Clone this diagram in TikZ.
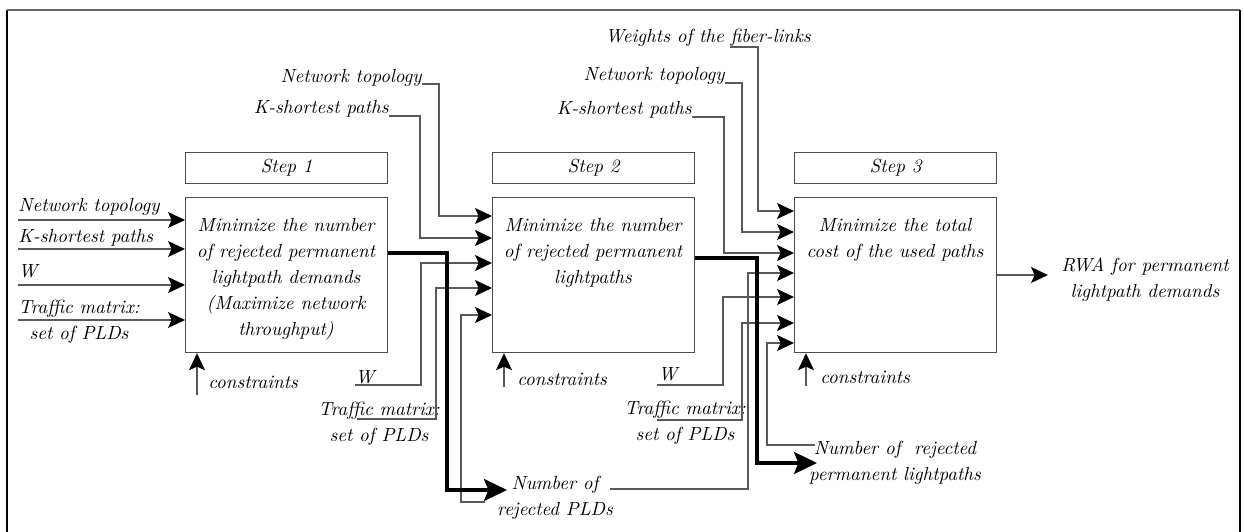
\documentclass[tikz,border=0pt]{standalone}
\usetikzlibrary{arrows.meta}
\begin{document}
\begin{tikzpicture}[x=0.5pt,y=-0.5pt,
  every node/.style={font=\itshape\fontsize{9.5}{13}\selectfont, inner sep=0pt},
  box/.style={draw=black!70, line width=0.6pt, minimum width=101pt, minimum height=77.5pt, anchor=north west},
  stepbox/.style={draw=black!70, line width=0.6pt, minimum width=101pt, minimum height=15.5pt, anchor=north west},
  inarrow/.style={draw=black!65, line width=0.6pt, -{Stealth[length=8.5pt,width=8pt,inset=1.8pt,color=black]}},
  mainflow/.style={draw=black, line width=1.6pt, -{Stealth[length=11.5pt,width=11pt,inset=2.2pt]}},
  txt/.style={align=center, anchor=north},
]
\useasboundingbox (0,0) rectangle (1244,531);
% frame
\draw[black, line width=0.8pt] (7,545) -- (7,10);
\draw[black!60, line width=0.8pt] (7,10) -- (1240,10);
\draw[black, line width=0.8pt] (1240,10) -- (1240,545);

% boxes
\node[stepbox] (s1) at (185,152) {Step 1};
\node[box] (b1) at (185,197) {};
\node[stepbox] (s2) at (492,152) {Step 2};
\node[box] (b2) at (492,197) {};
\node[stepbox] (s3) at (794,152) {Step 3};
\node[box] (b3) at (794,197) {};

\node[txt] (t1) at (286,218) {Minimize the number\\of rejected permanent\\lightpath demands\\(Maximize network\\throughput)};
\node[txt] (t2) at (593,218) {Minimize the number\\of rejected permanent\\lightpaths};
\node[txt] (t3) at (895,218) {Minimize the total\\cost of the used paths};

% step 1 inputs
\node[anchor=base west] (n1a) at (18,211) {Network topology};
\node[anchor=base west] (n1b) at (18,242) {K-shortest paths};
\node[anchor=base west] (n1c) at (18,277) {W};
\node[anchor=north west, align=center] (n1d) at (18,300) {Traffic matrix:\\set of PLDs};
\draw[inarrow] (n1a.west |- 0,220) -- (b1.west |- 0,220);
\draw[inarrow] (n1b.west |- 0,249) -- (b1.west |- 0,249);
\draw[inarrow] (n1c.west |- 0,285) -- (b1.west |- 0,285);
\draw[inarrow] (n1d.west |- 0,320) -- (b1.west |- 0,320);

% step 2 inputs
\node[anchor=base east] (n2a) at (422,82) {Network topology};
\node[anchor=base east] (n2b) at (389,113) {K-shortest paths};
\node[anchor=base west] (n2c) at (355,383) {W};
\node[txt] (n2d) at (379,402) {Traffic matrix:\\set of PLDs};
\node[txt] (nr1) at (555,476) {Number of\\rejected PLDs};
\draw[inarrow] (n2a.east |- 0,84) -| (439,216) -- (b2.west |- 0,216);
\draw[inarrow] (n2b.east |- 0,116) -| (420,238) -- (b2.west |- 0,238);
\draw[inarrow] (n2c.west |- 0,385) -| (421,263) -- (b2.west |- 0,263);
\draw[inarrow] (357,419) -| (436,288) -- (b2.west |- 0,288);
\draw[inarrow] (485,502) -| (461,315) -- (b2.west |- 0,315);

% step 3 inputs
\node[anchor=base west] (n3w) at (605,42) {Weights of the fiber-links};
\node[anchor=base east] (n3a) at (725,80) {Network topology};
\node[anchor=base east] (n3b) at (692,114) {K-shortest paths};
\node[anchor=base west] (n3c) at (658,380) {W};
\node[txt] (n3d) at (685,401) {Traffic matrix:\\set of PLDs};
\node[txt] (nr2) at (895,441) {Number of\ \ rejected\\permanent lightpaths};
\draw[inarrow] (730,47) -| (758,211) -- (b3.west |- 0,211);
\draw[inarrow] (n3a.east |- 0,83) -| (742,232) -- (b3.west |- 0,232);
\draw[inarrow] (n3b.east |- 0,117) -| (724,253) -- (b3.west |- 0,253);
\draw[inarrow] (610,489) -| (748,273) -- (b3.west |- 0,273);
\draw[inarrow] (657,385) -| (723,297) -- (b3.west |- 0,297);
\draw[inarrow] (657,420) -| (742,323) -- (b3.west |- 0,323);
\draw[inarrow] (815,445) -| (767,343) -- (b3.west |- 0,343);

% main flows
\draw[mainflow] (b1.east |- 0,253) -| (447,490) -- (507,490);
\draw[mainflow] (b2.east |- 0,258) -| (757,463) -- (817,463);

% constraints
\node[anchor=base west] (c1) at (208,388) {constraints};
\node[anchor=base west] (c2) at (517,385) {constraints};
\node[anchor=base west] (c3) at (820,383) {constraints};
\draw[inarrow] (197,395) -- (b1.south -| 197,0);
\draw[inarrow] (504,387) -- (b2.south -| 504,0);
\draw[inarrow] (806,386) -- (b3.south -| 806,0);

% output
\node[txt] (out) at (1145,257) {RWA for permanent\\lightpath demands};
\draw[inarrow] (b3.east |- 0,275) -- (1048,275);
\end{tikzpicture}
\end{document}
